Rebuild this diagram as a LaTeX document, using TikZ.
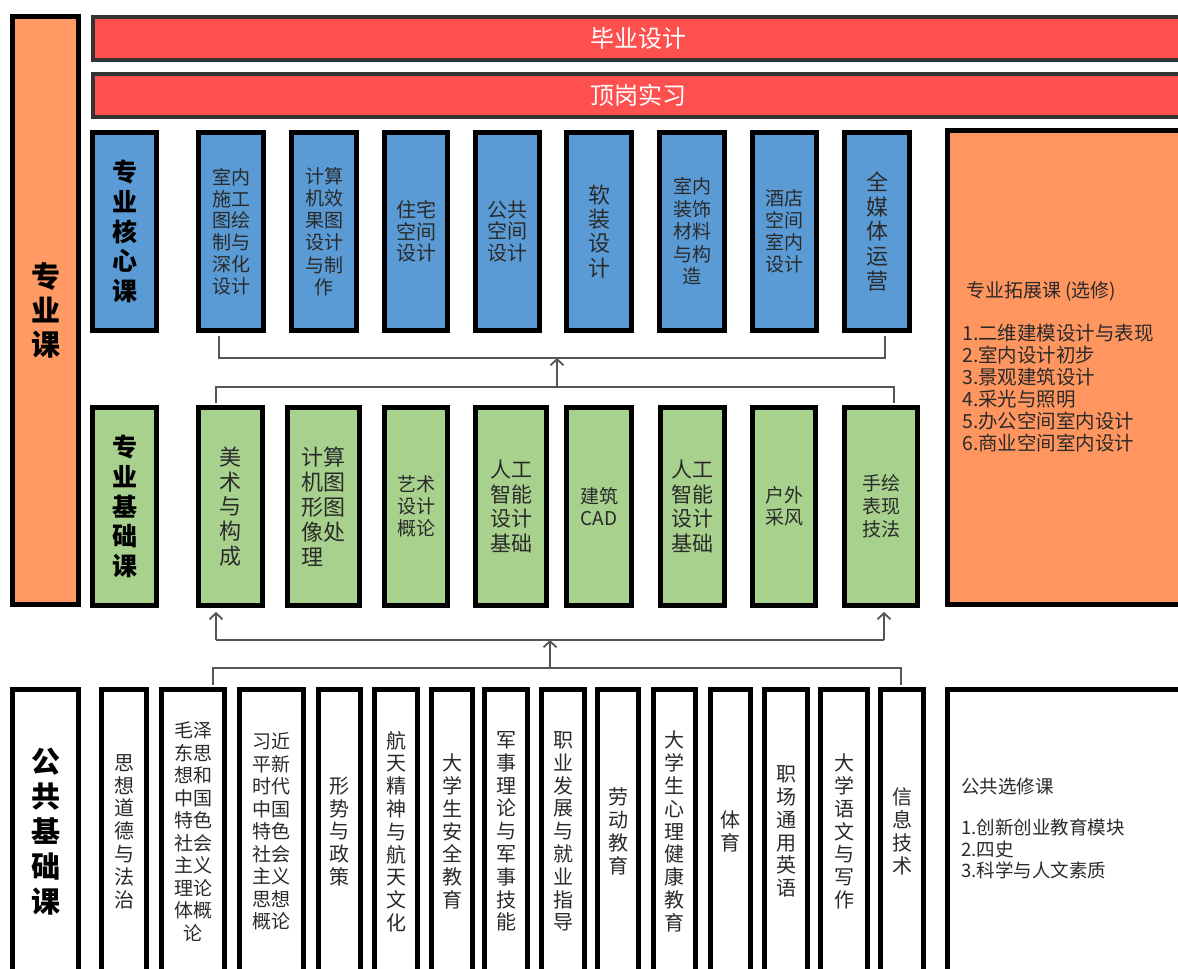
\documentclass[tikz,border=0pt]{standalone}
\usepackage{fontspec}
\setmainfont{Noto Sans CJK SC}
\usetikzlibrary{arrows.meta}
\definecolor{orgL}{HTML}{FF9A65}
\definecolor{orgR}{HTML}{FF965F}
\definecolor{redbar}{HTML}{FF5050}
\definecolor{bluebox}{HTML}{5B9BD5}
\definecolor{greenbox}{HTML}{A9D18E}
\definecolor{txt}{HTML}{2A2A2A}
\definecolor{conncol}{HTML}{555555}
\newcommand\fsz[2]{\fontsize{#1}{#2}\selectfont}
\newcommand\bx[7]{%
  \node[#6, minimum width={(#4-#2-5)*1pt}, minimum height={(#5-#3-5)*1pt}] (#1) at ({(#2+#4)/2},{(#3+#5)/2}) {#7};}
\tikzset{
  box/.style={draw=black, line width=5pt, inner sep=0pt, align=center, text=txt},
  bluebx/.style={box, fill=bluebox},
  greenbx/.style={box, fill=greenbox},
  whitebx/.style={box, fill=white},
  orgLbx/.style={box, fill=orgL},
  orgRbx/.style={box, fill=orgR},
  redbx/.style={draw=black!80, line width=4pt, fill=redbar, inner sep=0pt, text=white, font=\fsz{24}{28}},
  head/.style={text=black, font=\bfseries\fsz{25}{29.6}},
  conn/.style={draw=conncol, line width=1.8pt},
  arr/.style={conn, -{Straight Barb[length=6pt,width=13pt]}},
  sidetext/.style={anchor=west, align=left, text=txt, inner sep=0pt},
}
\begin{document}
\begin{tikzpicture}[x=1pt,y=-1pt]
\useasboundingbox (0,0) rectangle (1178,969);
% left big box
\bx{L}{10}{14}{81}{607}{orgLbx,text=black,font=\bfseries\fsz{29}{34}}{专\\业\\课}
% red bars
\bx{R1}{90}{14}{1186}{62}{redbx}{毕业设计}
\bx{R2}{90}{71}{1186}{119}{redbx}{顶岗实习}
% blue row
\bx{B0}{90}{130}{159}{333}{bluebx,head}{专\\业\\核\\心\\课}
\bx{B1}{196}{130}{266}{333}{bluebx,font=\fsz{19}{21.7}}{室内\\施工\\图绘\\制与\\深化\\设计}
\bx{B2}{289}{130}{359}{333}{bluebx,font=\fsz{19}{22.2}}{计算\\机效\\果图\\设计\\与制\\作}
\bx{B3}{382}{130}{450}{333}{bluebx,font=\fsz{20}{21.7}}{住宅\\空间\\设计}
\bx{B4}{473}{130}{542}{333}{bluebx,font=\fsz{20}{21.7}}{公共\\空间\\设计}
\bx{B5}{564}{130}{634}{333}{bluebx,font=\fsz{22}{24.2}}{软\\装\\设\\计}
\bx{B6}{657}{130}{727}{333}{bluebx,font=\fsz{19}{22.5}}{室内\\装饰\\材料\\与构\\造}
\bx{B7}{750}{130}{819}{333}{bluebx,font=\fsz{19}{22.2}}{酒店\\空间\\室内\\设计}
\bx{B8}{842}{130}{912}{333}{bluebx,font=\fsz{22}{24.7}}{全\\媒\\体\\运\\营}
% right orange box
\bx{OR}{945}{128}{1190}{607}{orgRbx}{}
\node[sidetext, font=\fsz{19}{22}] (ORt) at (966,291) {专业拓展课 (选修)};
\node[sidetext, font=\fsz{19.5}{22}, anchor=north west] (ORl) at (962,324) {1.二维建模设计与表现\\2.室内设计初步\\3.景观建筑设计\\4.采光与照明\\5.办公空间室内设计\\6.商业空间室内设计};
% green row
\bx{G0}{90}{405}{159}{608}{greenbx,head}{专\\业\\基\\础\\课}
\bx{G1}{196}{405}{265}{608}{greenbx,font=\fsz{22}{24.7}}{美\\术\\与\\构\\成}
\bx{G2}{285}{405}{362}{608}{greenbx,font=\fsz{22}{25},align=left}{计算\\机图\\形图\\像处\\理}
\bx{G3}{382}{405}{450}{608}{greenbx,font=\fsz{19}{21.7}}{艺术\\设计\\概论}
\bx{G4}{473}{405}{549}{608}{greenbx,font=\fsz{21}{24.5}}{人工\\智能\\设计\\基础}
\bx{G5}{564}{405}{634}{608}{greenbx,font=\fsz{19}{22}}{建筑\\CAD}
\bx{G6}{658}{405}{727}{608}{greenbx,font=\fsz{21}{24.5}}{人工\\智能\\设计\\基础}
\bx{G7}{750}{405}{818}{608}{greenbx,font=\fsz{19}{21.7}}{户外\\采风}
\bx{G8}{842}{405}{920}{608}{greenbx,font=\fsz{19}{23}}{手绘\\表现\\技法}
% bottom row
\bx{P0}{10}{687}{81}{976}{whitebx,text=black,font=\bfseries\fsz{29}{35}}{公\\共\\基\\础\\课}
\tikzset{pone/.style={whitebx,font=\fsz{20}{22.8}}, ptwo/.style={whitebx,font=\fsz{19}{22.5}}}
\bx{P1}{99}{687}{149}{976}{pone}{思\\想\\道\\德\\与\\法\\治}
\bx{P2}{159}{687}{227}{976}{ptwo}{毛泽\\东思\\想和\\中国\\特色\\社会\\主义\\理论\\体概\\论}
\bx{P3}{237}{687}{306}{976}{ptwo}{习近\\平新\\时代\\中国\\特色\\社会\\主义\\思想\\概论}
\bx{P4}{316}{687}{363}{976}{pone}{形\\势\\与\\政\\策}
\bx{P5}{372}{687}{420}{976}{pone}{航\\天\\精\\神\\与\\航\\天\\文\\化}
\bx{P6}{429}{687}{475}{976}{pone}{大\\学\\生\\安\\全\\教\\育}
\bx{P7}{482}{687}{530}{976}{pone}{军\\事\\理\\论\\与\\军\\事\\技\\能}
\bx{P8}{539}{687}{587}{976}{pone}{职\\业\\发\\展\\与\\就\\业\\指\\导}
\bx{P9}{595}{687}{641}{976}{pone}{劳\\动\\教\\育}
\bx{P10}{651}{687}{698}{976}{pone}{大\\学\\生\\心\\理\\健\\康\\教\\育}
\bx{P11}{708}{687}{753}{976}{pone}{体\\育}
\bx{P12}{762}{687}{810}{976}{pone}{职\\场\\通\\用\\英\\语}
\bx{P13}{818}{687}{870}{976}{pone}{大\\学\\语\\文\\与\\写\\作}
\bx{P14}{878}{687}{926}{976}{pone}{信\\息\\技\\术}
\bx{P15}{945}{687}{1190}{976}{whitebx}{}
\node[sidetext, font=\fsz{18.5}{21.5}] (P15t) at (961,786) {公共选修课};
\node[sidetext, font=\fsz{18.5}{21.5}, anchor=north west] (P15l) at (961,819) {1.创新创业教育模块\\2.四史\\3.科学与人文素质};
% connectors
\coordinate (c1) at (219,358);
\coordinate (c2) at (885,358);
\draw[conn, shorten <=2.5pt, shorten >=2.5pt] (B1.south -| c1) |- (c2) -- (B8.south -| c2);
\coordinate (a1) at (557,387);
\draw[arr] (a1) -- (a1 |- c1);
\coordinate (d1) at (216,387);
\coordinate (d2) at (894,387);
\draw[conn, shorten <=2.5pt, shorten >=2.5pt] (G1.north -| d1) |- (d2) -- (G8.north -| d2);
\coordinate (e1) at (216,640);
\coordinate (e2) at (884,640);
\draw[conn] (e1) -- (e2);
\draw[arr, shorten >=4pt] (e1) -- (G1.south -| e1);
\draw[arr, shorten >=4pt] (e2) -- (G8.south -| e2);
\coordinate (f0) at (550,668);
\draw[arr] (f0) -- (f0 |- e1);
\coordinate (f1) at (213,668);
\coordinate (f2) at (901,668);
\draw[conn, shorten <=2.5pt, shorten >=2.5pt] (P2.north -| f1) |- (f2) -- (P14.north -| f2);
\end{tikzpicture}
\end{document}
